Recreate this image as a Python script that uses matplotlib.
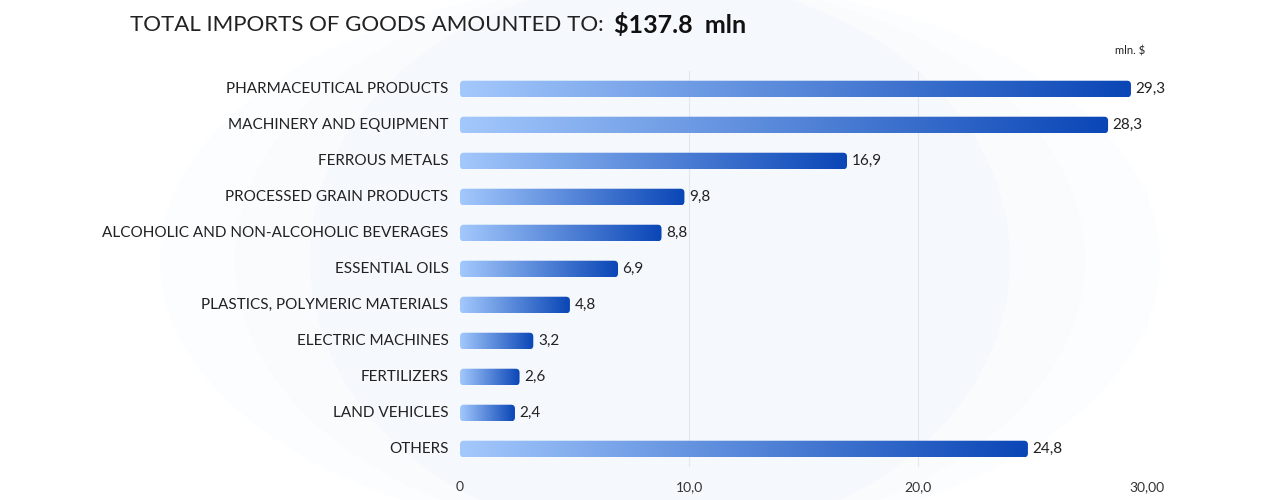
import numpy as np
import matplotlib.pyplot as plt
from matplotlib.colors import LinearSegmentedColormap
from matplotlib.patches import FancyBboxPatch, Ellipse

categories = ["PHARMACEUTICAL PRODUCTS", "MACHINERY AND EQUIPMENT", "FERROUS METALS",
              "PROCESSED GRAIN PRODUCTS", "ALCOHOLIC AND NON-ALCOHOLIC BEVERAGES",
              "ESSENTIAL OILS", "PLASTICS, POLYMERIC MATERIALS", "ELECTRIC MACHINES",
              "FERTILIZERS", "LAND VEHICLES", "OTHERS"]
values = [29.3, 28.3, 16.9, 9.8, 8.8, 6.9, 4.8, 3.2, 2.6, 2.4, 24.8]
xticks = [0, 10, 20, 30]
xtick_labels = ["0", "10,0", "20,0", "30,00"]

plt.rcParams['font.family'] = ['Lato', 'DejaVu Sans']
fig = plt.figure(figsize=(12.8, 5), dpi=100)
fig.patch.set_facecolor('white')

# soft background glow
bg = fig.add_axes([0, 0, 1, 1], zorder=-1)
bg.set_xlim(0, 1280); bg.set_ylim(500, 0); bg.axis('off')
for w, a in [(1000, 0.15), (850, 0.2), (700, 0.3)]:
    bg.add_patch(Ellipse((660, 260), w, 560, color='#eef4fc', alpha=a, lw=0))

ax = fig.add_axes([460 / 1280, 0.066, 687 / 1280, 0.792])
ax.set_xlim(0, 30)
ax.set_ylim(len(values) - 0.5, -0.5)
ax.patch.set_alpha(0)
for s in ax.spines.values():
    s.set_visible(False)
ax.set_yticks([])
ax.set_xticks(xticks)
ax.set_xticklabels(xtick_labels, fontsize=10, color='#333333')
ax.tick_params(axis='x', length=0, pad=10)
for x in xticks[1:]:
    ax.axvline(x, color='#e3e8ef', lw=0.8, zorder=0)

cmap = LinearSegmentedColormap.from_list('b', ['#a3c8fc', '#0a46b6'])
grad = np.linspace(0, 1, 256).reshape(1, -1)
h = 0.46
for i, (cat, v) in enumerate(zip(categories, values)):
    patch = FancyBboxPatch((0, i - h / 2), v, h, boxstyle='round,pad=0,rounding_size=0.17',
                           mutation_aspect=0.64, fc='none', ec='none')
    ax.add_patch(patch)
    im = ax.imshow(grad, cmap=cmap, extent=[0, v, i + h / 2, i - h / 2], aspect='auto', zorder=2)
    im.set_clip_path(patch)
    ax.text(v + 0.2, i, f"{v:.1f}".replace('.', ','), va='center', ha='left', fontsize=11, color='#222222')
    ax.text(-0.5, i, cat, va='center', ha='right', fontsize=11, color='#222222')

t1 = fig.text(130 / 1280, 1 - 25 / 500, "TOTAL IMPORTS OF GOODS AMOUNTED TO:", fontsize=16,
              color='#222222', va='center', ha='left')
fig.canvas.draw()
bb = t1.get_window_extent()
fig.text((bb.x1 + 10) / 1280, 1 - 25 / 500, "$137.8  mln", fontsize=18, fontweight='bold',
         color='#111111', va='center', ha='left')
fig.text(1145 / 1280, 1 - 51 / 500, "mln. $", fontsize=8, color='#222222', va='center', ha='right')

fig.savefig('out.png', dpi=100)
